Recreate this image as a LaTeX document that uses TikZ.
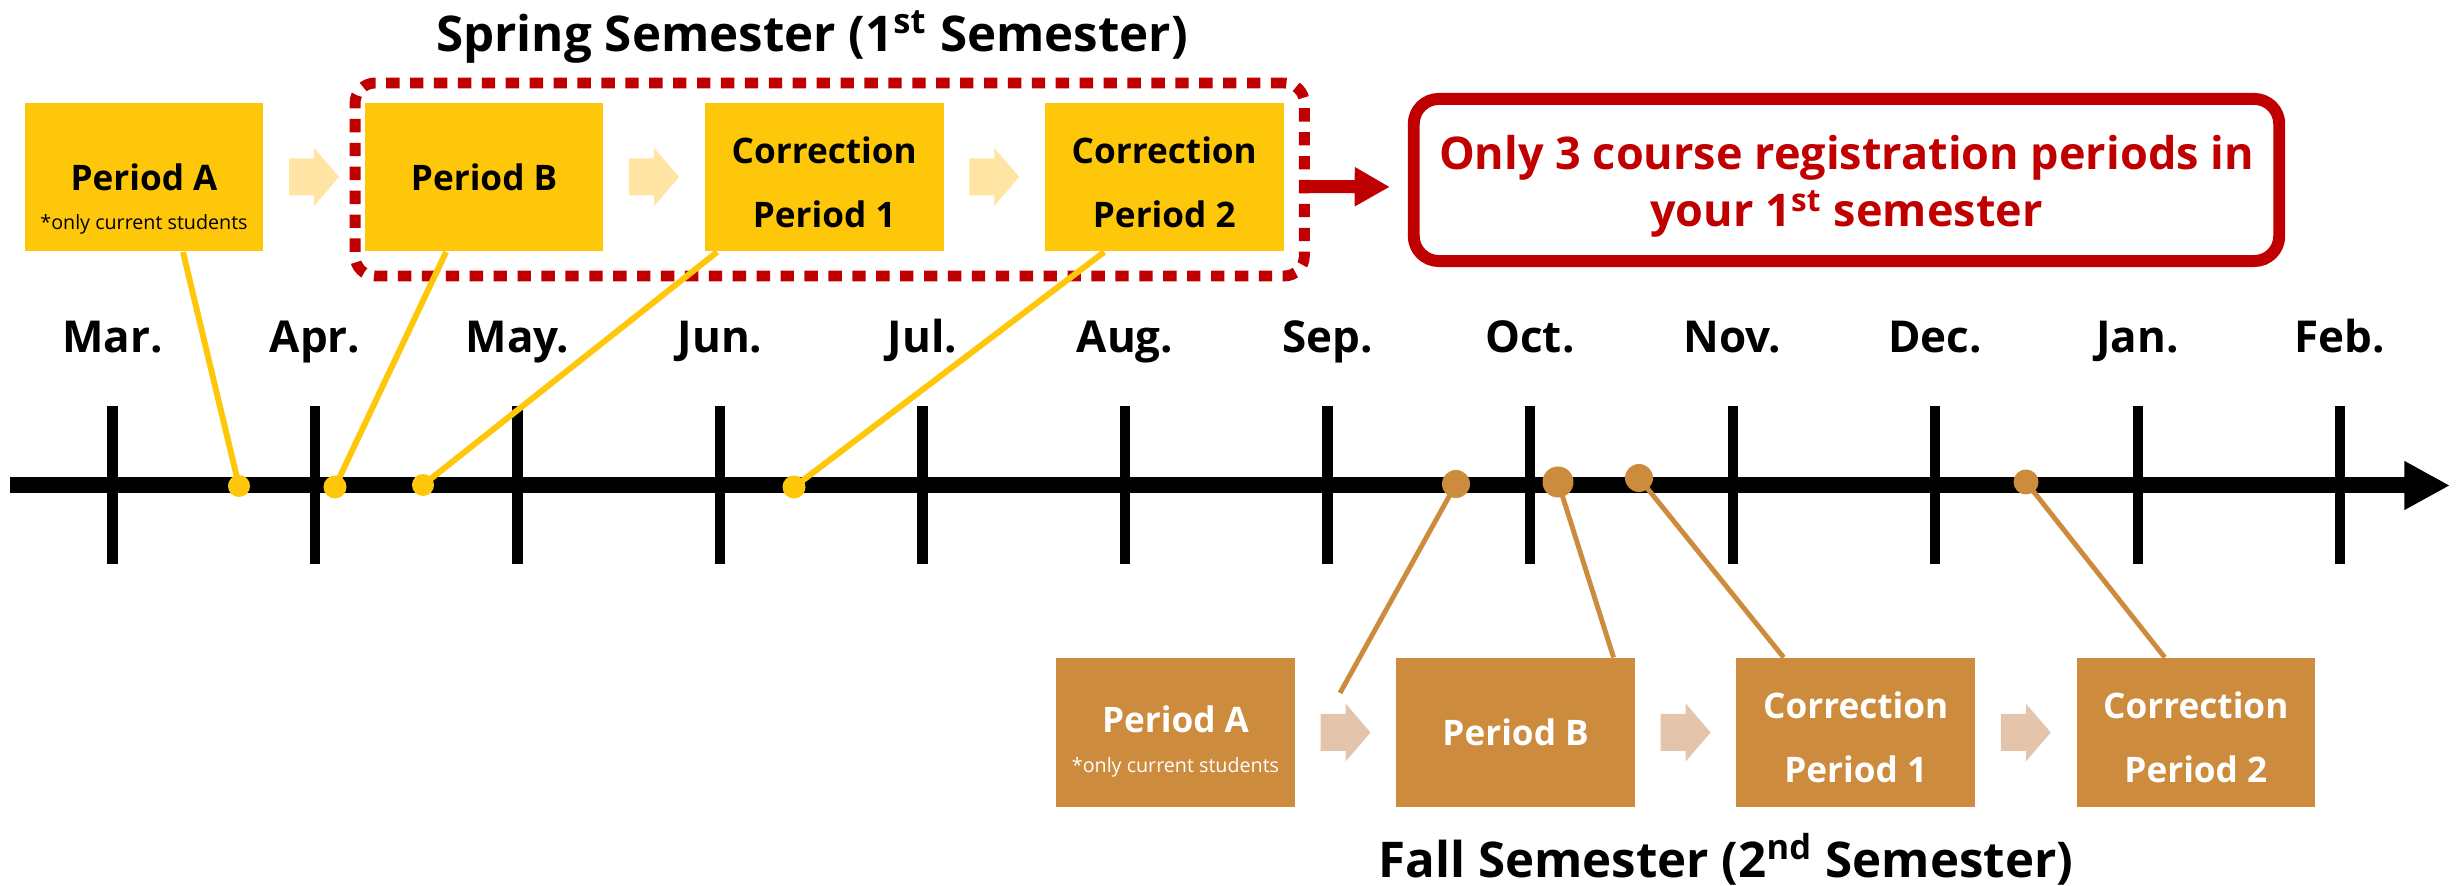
\documentclass[tikz,border=0pt]{standalone}
\usepackage{fontspec}
\setmainfont{Open Sans}
\usetikzlibrary{positioning,calc,fit,arrows.meta}

\definecolor{springgold}{HTML}{FFC70A}
\definecolor{springlight}{HTML}{FFE4A3}
\definecolor{fallbrown}{HTML}{CD8B3E}
\definecolor{falllight}{HTML}{E5C4AC}
\definecolor{notered}{HTML}{C00000}

\newcommand\topstrut[1]{\rule{0pt}{#1}}

\tikzset{
  period/.style={rectangle, minimum width=2.385cm, minimum height=1.485cm, inner sep=0pt,
    align=center, font=\fontsize{10}{18.2}\selectfont\bfseries},
  springperiod/.style={period, fill=springgold, text=black},
  fallperiod/.style={period, fill=fallbrown, text=white},
  onlynote/.style={font=\fontsize{5.6}{7}\selectfont, anchor=base},
  springdot/.style={circle, fill=springgold, inner sep=0pt, minimum size=0.22cm},
  falldot/.style={circle, fill=fallbrown, inner sep=0pt, minimum size=0.28cm},
  springline/.style={springgold, line width=1.7pt},
  fallline/.style={fallbrown, line width=1.4pt},
  monthtick/.style={line width=2.85pt},
  month/.style={font=\fontsize{12.5}{15}\selectfont\bfseries, anchor=base},
  semtitle/.style={font=\fontsize{14}{16}\selectfont\bfseries, anchor=base},
  notebox/.style={draw=notered, line width=3.4pt, rounded corners=0.25cm, minimum width=8.65cm,
    minimum height=1.62cm, text=notered, align=center, font=\fontsize{12.8}{16.4}\selectfont\bfseries},
}

\begin{document}
\begin{tikzpicture}[x=0.01cm, y=-0.01cm]
	\useasboundingbox (0,0) rectangle (2456,886);

	% time axis with months
	\foreach \m [count=\i from 0] in {Mar.,Apr.,May.,Jun.,Jul.,Aug.,Sep.,Oct.,Nov.,Dec.,Jan.,Feb.} {
		\draw[monthtick] (112.5+202.5*\i,406) -- (112.5+202.5*\i,564);
		\node[month] at (112.5+202.5*\i,353) {\m};
	}
	\draw[line width=4.55pt, -{Triangle[length=13pt,width=13pt]}] (10,485.5) -- (2450,485.5);

	% spring semester
	\node[semtitle] (springtitle) at (812,52) {Spring Semester (1\textsuperscript{st} Semester)};
	\node[springperiod] (sA) at (144,177) {Period A};
	\node[onlynote] at ($(sA.center)+(0,53)$) {*only current students};
	\node[springperiod, right=1cm of sA] (sB) {Period B};
	\node[springperiod, right=1cm of sB] (sC1) {\topstrut{10.4pt}Correction\\Period 1};
	\node[springperiod, right=1cm of sC1] (sC2) {\topstrut{10.4pt}Correction\\Period 2};

	\foreach \a/\b in {sA/sB, sB/sC1, sC1/sC2}
		\fill[springlight, shift={($(\a.east)!0.5!(\b.west)$)}] (-25,-18.5) -- ++(25,0) -- ++(0,-10.5) -- ++(25,29) -- ++(-25,29) -- ++(0,-10.5) -- ++(-25,0) -- cycle;

	\coordinate (sbnw) at ($(sB.north west)+(-9,-19)$);
	\coordinate (sbse) at ($(sC2.south east)+(20,24)$);
	\node[draw=notered, line width=3.1pt, dash pattern=on 3.8pt off 3pt, rounded corners=0.2cm, inner sep=0pt, fit=(sbnw)(sbse)] (springbox) {};

	\node[springdot] (dA) at (239,486) {};
	\node[springdot, minimum size=0.23cm] (dB) at (335,487) {};
	\node[springdot] (dC1) at (423,485) {};
	\node[springdot, minimum size=0.23cm] (dC2) at (794,487) {};
	\draw[springline] ($(sA.south west)+(159,0)$) -- (dA.center);
	\draw[springline] ($(sB.south west)+(82,0)$) -- (dB.center);
	\draw[springline] ($(sC1.south west)+(13,0)$) -- (dC1.center);
	\draw[springline] ($(sC2.south west)+(60,0)$) -- (dC2.center);

	% note
	\node[notebox] (note) at (1846.5,180) {\topstrut{13.4pt}Only 3 course registration periods in\\your 1\textsuperscript{st} semester};
	\draw[notered, line width=3.7pt, -{Triangle[length=10pt,width=10.5pt]}, shorten >=5.1pt] ([yshift=-2pt]springbox.east) -- ([yshift=-2pt]note.west);

	% fall semester
	\node[semtitle] (falltitle) at (1726,878) {Fall Semester (2\textsuperscript{nd} Semester)};
	\node[fallperiod, text depth=7.7pt] (fA) at (1175.5,732.5) {Period A};
	\node[onlynote, text=white] at ($(fA.center)+(0,40)$) {*only current students};
	\node[fallperiod, right=1cm of fA] (fB) {Period B};
	\node[fallperiod, right=1cm of fB] (fC1) {\topstrut{10.4pt}Correction\\Period 1};
	\node[fallperiod, right=1cm of fC1] (fC2) {\topstrut{10.4pt}Correction\\Period 2};

	\foreach \a/\b in {fA/fB, fB/fC1, fC1/fC2}
		\fill[falllight, shift={($(\a.east)!0.5!(\b.west)$)}] (-25,-18.5) -- ++(25,0) -- ++(0,-10.5) -- ++(25,29) -- ++(-25,29) -- ++(0,-10.5) -- ++(-25,0) -- cycle;

	\node[falldot] (eA) at (1456,484) {};
	\node[falldot, minimum size=0.31cm] (eB) at (1558,482) {};
	\node[falldot] (eC1) at (1639,478) {};
	\node[falldot, minimum size=0.25cm] (eC2) at (2026,482) {};
	\coordinate (fAend) at (1340,693);
	\draw[fallline] (fAend) -- (eA.center);
	\draw[fallline] ($(fB.north west)+(218,0)$) -- (eB.center);
	\draw[fallline] ($(fC1.north west)+(48,0)$) -- (eC1.center);
	\draw[fallline] ($(fC2.north west)+(89,0)$) -- (eC2.center);
\end{tikzpicture}
\end{document}
